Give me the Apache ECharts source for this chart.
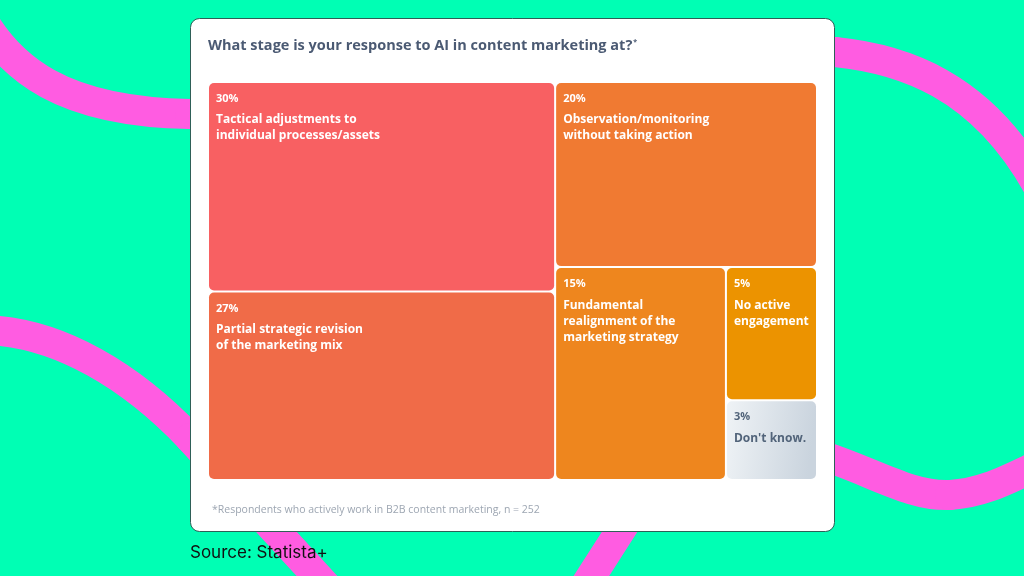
<!DOCTYPE html>
<html>
<head>
<meta charset="utf-8">
<script src="https://cdn.jsdelivr.net/npm/echarts@6/dist/echarts.min.js"></script>
<style>
  html, body { margin: 0; padding: 0; background: #00FFB4; }
  #chart { width: 1024px; height: 576px; }
</style>
</head>
<body>
<div id="chart"></div>
<script>
// ---- data ----
const categories = [
  'Tactical adjustments to\nindividual processes/assets',
  'Partial strategic revision\nof the marketing mix',
  'Observation/monitoring\nwithout taking action',
  'Fundamental\nrealignment of the\nmarketing strategy',
  'No active\nengagement',
  "Don't know."
];
const values = [30, 27, 20, 15, 5, 3];
const tileColors = ['#F86062', '#F06B48', '#F07A32', '#EE861E', '#EC9300', 'gradient'];
const titleText = 'What stage is your response to AI in content marketing at?';
const footnoteText = '*Respondents who actively work in B2B content marketing, n = 252';
const sourceText = 'Source: Statista+';

const chart = echarts.init(document.getElementById('chart'), null, { renderer: 'canvas' });

const greyGrad = new echarts.graphic.LinearGradient(0, 0, 1, 0.15, [
  { offset: 0, color: '#EFF3F6' },
  { offset: 1, color: '#CAD4DE' }
]);

const seriesData = categories.map((c, i) => {
  const item = {
    name: c,
    value: values[i],
    itemStyle: { color: tileColors[i] === 'gradient' ? greyGrad : tileColors[i] }
  };
  if (tileColors[i] === 'gradient') item.label = { color: '#52647A' };
  return item;
});

const PINK = '#FF5CE1';
const bandStyle = { fill: 'none', stroke: PINK, lineWidth: 30, lineCap: 'round' };
function bez(x1, y1, c1x, c1y, c2x, c2y, x2, y2) {
  return { type: 'bezierCurve', z: 0, silent: true,
    shape: { x1: x1, y1: y1, cpx1: c1x, cpy1: c1y, cpx2: c2x, cpy2: c2y, x2: x2, y2: y2 },
    style: bandStyle };
}
function seg(x1, y1, x2, y2) {
  return { type: 'line', z: 0, silent: true, shape: { x1: x1, y1: y1, x2: x2, y2: y2 }, style: bandStyle };
}

chart.setOption({
  backgroundColor: '#00FFB4',
  animation: false,
  graphic: [
    bez(-30, -5, 5, 75, 70, 112, 190, 114),
    seg(190, 114, 835, 52),
    bez(835, 52, 895, 58, 985, 80, 1045, 200),
    bez(-20, 330, 60, 330, 135, 380, 190, 438),
    seg(190, 438, 340, 601),
    seg(560, 625, 640, 500),
    seg(640, 500, 820, 455),
    bez(820, 455, 870, 470, 910, 497, 950, 495),
    bez(950, 495, 985, 493, 1010, 478, 1045, 462),
    { type: 'rect', z: 1, shape: { x: 190.5, y: 18.5, width: 644, height: 513, r: 9 },
      style: { fill: '#FFFFFF', stroke: '#2E5E57', lineWidth: 1 } },
    { type: 'text', z: 2, x: 208, y: 46,
      style: {
        text: '{t|' + titleText + '}{s|*}',
        verticalAlign: 'middle',
        rich: {
          t: { fontFamily: 'Open Sans', fontWeight: 'bold', fontSize: 14.5, fill: '#4B5A73', lineHeight: 20 },
          s: { fontFamily: 'Open Sans', fontWeight: 'bold', fontSize: 7, fill: '#4B5A73', lineHeight: 20, verticalAlign: 'top', padding: [2, 0, 6, 1] }
        }
      } },
    { type: 'text', z: 2, x: 212, y: 510,
      style: { text: footnoteText, fontFamily: 'Open Sans', fontSize: 10.5, fill: '#9DA6B2', verticalAlign: 'middle' } },
    { type: 'text', z: 2, x: 190, y: 553,
      style: { text: sourceText, fontFamily: 'Inter', fontSize: 17, fill: '#111111', verticalAlign: 'middle' } }
  ],
  series: [{
    type: 'treemap',
    left: 209, top: 83, width: 607, height: 396,
    squareRatio: 1,
    roam: false,
    nodeClick: false,
    breadcrumb: { show: false },
    z: 3,
    itemStyle: { borderWidth: 0, gapWidth: 2, borderColor: '#FFFFFF', borderRadius: 5 },
    levels: [
      { itemStyle: { borderWidth: 0, gapWidth: 2, borderColor: '#FFFFFF', borderRadius: 0 } },
      { itemStyle: { borderWidth: 0, borderRadius: 5 } }
    ],
    label: {
      show: true,
      position: [2, -2],
      color: '#FFFFFF',
      overflow: 'none',
      formatter: function (p) {
        const lines = p.name.split('\n').map(l => '{n|' + l + '}').join('\n');
        return '{p|' + p.value + '%}\n' + lines;
      },
      rich: {
        p: { fontFamily: 'Open Sans', fontWeight: 'bold', fontSize: 11, lineHeight: 26 },
        n: { fontFamily: 'Open Sans', fontWeight: 'bold', fontSize: 12, lineHeight: 16 }
      }
    },
    upperLabel: { show: false },
    emphasis: { disabled: true },
    data: seriesData
  }]
});
</script>
</body>
</html>
